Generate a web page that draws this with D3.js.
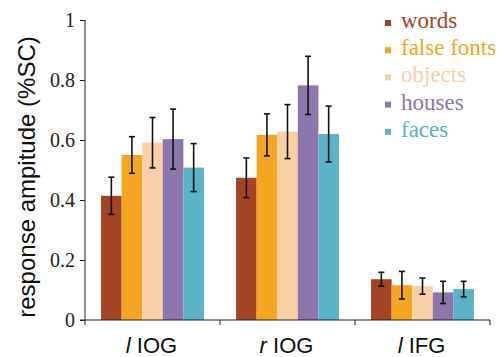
<!DOCTYPE html>
<html><head><meta charset="utf-8">
<script src="https://cdn.jsdelivr.net/npm/d3@7"></script>
<style>body{margin:0;background:#fff}svg{display:block}
.serif{font-family:"Liberation Serif","Times New Roman",serif}
.sans{font-family:"Liberation Sans",Arial,sans-serif}</style>
</head><body>
<script>
const regions = [["l", " IOG"], ["r", " IOG"], ["l", " IFG"]];
const regionKeys = ["lIOG", "rIOG", "lIFG"];
const series = ["words", "false fonts", "objects", "houses", "faces"];
const colors = ["#A34525", "#F4A623", "#F9D0A5", "#8D76AC", "#5BB3C7"];
const values = {
  lIOG: [0.414, 0.550, 0.591, 0.603, 0.508],
  rIOG: [0.474, 0.617, 0.628, 0.782, 0.620],
  lIFG: [0.136, 0.116, 0.113, 0.092, 0.103]
};
const errors = {
  lIOG: [0.062, 0.061, 0.084, 0.100, 0.080],
  rIOG: [0.066, 0.070, 0.090, 0.097, 0.093],
  lIFG: [0.023, 0.046, 0.027, 0.037, 0.026]
};
const yTicks = [0, 0.2, 0.4, 0.6, 0.8, 1];
const yTickLabels = ["0", "0.2", "0.4", "0.6", "0.8", "1"];

const W = 501, H = 357;
const svg = d3.select("body").append("svg").attr("width", W).attr("height", H);

const x0 = d3.scaleBand().domain(regionKeys).range([85, 490]).padding(0);
const x1 = d3.scaleBand().domain(series).range([0, x0.bandwidth()]).paddingInner(0).paddingOuter(0.78);
const y = d3.scaleLinear().domain([0, 1]).range([320, 20]);

regionKeys.forEach(rk => {
  const g = svg.append("g").attr("transform", `translate(${x0(rk)},0)`);
  series.forEach((s, i) => {
    g.append("rect")
      .attr("x", x1(s)).attr("width", x1.bandwidth())
      .attr("y", y(values[rk][i])).attr("height", y(0) - y(values[rk][i]))
      .attr("fill", colors[i]);
  });
  series.forEach((s, i) => {
    const cx = x1(s) + x1.bandwidth() / 2;
    const lo = y(values[rk][i] - errors[rk][i]), hi = y(values[rk][i] + errors[rk][i]);
    g.append("line").attr("x1", cx).attr("x2", cx).attr("y1", lo).attr("y2", hi)
      .attr("stroke", "#111").attr("stroke-width", 1.6);
    [lo, hi].forEach(v => g.append("line").attr("x1", cx - 3).attr("x2", cx + 3)
      .attr("y1", v).attr("y2", v).attr("stroke", "#111").attr("stroke-width", 1.6));
  });
});

const yAxis = d3.axisLeft(y).tickValues(yTicks).tickFormat((d, i) => yTickLabels[i]).tickSize(5).tickPadding(5);
const ya = svg.append("g").attr("transform", "translate(85,0)").call(yAxis);
ya.attr("font-family", null).attr("font-size", null);
ya.select(".domain").attr("d", "M0,20V320").attr("stroke", "#222");
ya.selectAll(".tick line").attr("stroke", "#222");
ya.selectAll(".tick text").attr("class", "serif").style("font-size", "20px").attr("fill", "#222");

const xa = svg.append("g").attr("transform", "translate(0,320)");
xa.append("line").attr("x1", 80).attr("x2", 490).attr("y1", 0).attr("y2", 0).attr("stroke", "#222");
[85, ...regionKeys.map(k => x0(k) + x0.bandwidth())].forEach(t =>
  xa.append("line").attr("x1", t).attr("x2", t).attr("y1", 0).attr("y2", 5).attr("stroke", "#222"));

regionKeys.forEach((rk, i) => {
  const t = svg.append("text").attr("x", x0(rk) + x0.bandwidth() / 2 - 1).attr("y", 353)
    .attr("text-anchor", "middle").attr("class", "sans")
    .style("font-size", "22px").attr("fill", "#111");
  t.append("tspan").attr("font-style", "italic").text(regions[i][0]);
  t.append("tspan").text(regions[i][1]);
});

svg.append("text").attr("transform", "translate(26,177) rotate(-90)")
  .attr("text-anchor", "middle").attr("dominant-baseline", "central")
  .attr("class", "sans").style("font-size", "24px").attr("fill", "#111")
  .text("response ampitude (%SC)");

series.forEach((s, i) => {
  const cy = 23 + i * 27.2;
  svg.append("rect").attr("x", 385).attr("y", cy - 3).attr("width", 6).attr("height", 6).attr("fill", colors[i]);
  svg.append("text").attr("x", 401).attr("y", cy + 5).attr("class", "serif")
    .style("font-size", "23px").attr("fill", colors[i]).text(s);
});
</script>
</body></html>
